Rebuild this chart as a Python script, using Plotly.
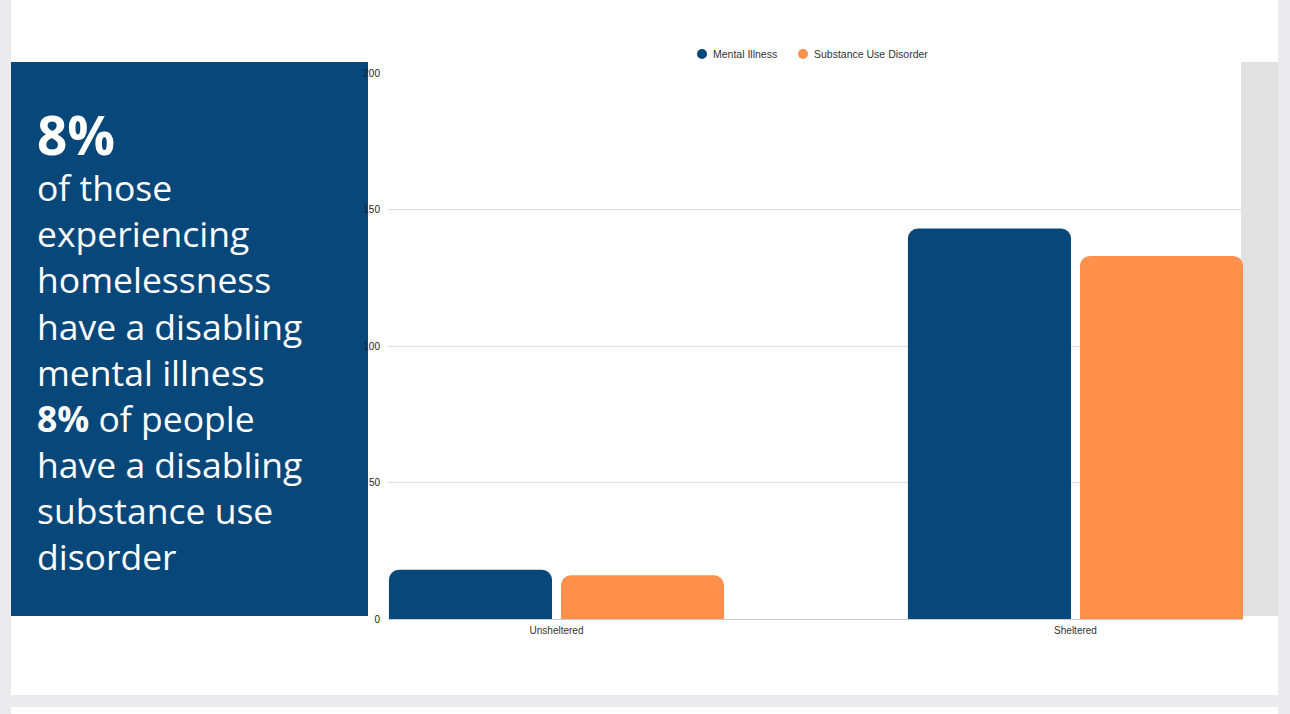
import plotly.graph_objects as go

# Data
categories = ["Unsheltered", "Sheltered"]
mental_illness = [18, 143]
substance_use = [16, 133]
y_ticks = [0, 50, 100, 150, 200]
series_names = ["Mental Illness", "Substance Use Disorder"]

NAVY = "#07477A"
ORANGE = "#FF914D"
COLORS = [NAVY, ORANGE]

W, H = 1290, 714
# plot area in pixels
L, R, T, B = 388, 1243, 73, 619


def px(x):
    return (x - L) / (R - L)


def py(y):
    return (B - y) / (B - T)


fig = go.Figure()
for name, vals, col in zip(series_names, [mental_illness, substance_use], COLORS):
    fig.add_trace(go.Bar(x=categories, y=vals, name=name,
                         marker=dict(color=col, line=dict(width=0)), showlegend=False))

shapes = [
    # white page cards
    dict(type="rect", xref="paper", yref="paper", layer="below",
         x0=px(11), x1=px(1278), y0=py(695), y1=py(0),
         fillcolor="white", line=dict(width=0)),
    dict(type="rect", xref="paper", yref="paper", layer="below",
         x0=px(11), x1=px(1278), y0=py(714), y1=py(707),
         fillcolor="white", line=dict(width=0)),
    # side panels
    dict(type="rect", xref="paper", yref="paper", layer="below",
         x0=px(11), x1=px(368), y0=py(616), y1=py(62),
         fillcolor=NAVY, line=dict(width=0)),
    dict(type="rect", xref="paper", yref="paper", layer="below",
         x0=px(1241), x1=px(1278), y0=py(616), y1=py(62),
         fillcolor="#E1E1E1", line=dict(width=0)),
]

annotations = []

# legend: circle marker followed by series name
legend_marker_x = [702, 803]
for name, col, mx in zip(series_names, COLORS, legend_marker_x):
    shapes.append(dict(type="circle", xref="paper", yref="paper", layer="above",
                       x0=px(mx - 5), x1=px(mx + 5), y0=py(59), y1=py(49),
                       fillcolor=col, line=dict(width=0)))
    annotations.append(dict(text=name, x=px(mx + 9), y=py(54), xref="paper", yref="paper",
                            xanchor="left", yanchor="middle", showarrow=False,
                            font=dict(family="Liberation Sans, Arial", size=10.5, color="#333")))

# side panel statement
panel_lines = ["<span style='font-size:53px'><b>8%</b></span>",
               "of those", "experiencing", "homelessness", "have a disabling",
               "mental illness", "<b>8%</b> of people", "have a disabling",
               "substance use", "disorder"]
annotations.append(dict(text="<br>".join(panel_lines), x=px(35), y=py(339),
                        xref="paper", yref="paper", xanchor="left", yanchor="middle",
                        align="left", showarrow=False,
                        font=dict(family="Open Sans", size=35.5, color="white")))

fig.update_layout(
    width=W, height=H,
    margin=dict(l=L, r=W - R, t=T, b=H - B),
    paper_bgcolor="#EBEBEE",
    plot_bgcolor="rgba(0,0,0,0)",
    barmode="group",
    bargap=0.337,
    bargroupgap=0.052,
    barcornerradius=10,
    showlegend=False,
    shapes=shapes,
    annotations=annotations,
    xaxis=dict(type="category", range=[(L - 556.5) / 519, (R - 556.5) / 519],
               showline=True, linecolor="#CCCCCC", linewidth=1,
               showgrid=False, ticks="", ticklabelstandoff=2,
               tickfont=dict(family="Liberation Sans, Arial", size=10, color="#333")),
    yaxis=dict(range=[0, 200], tickvals=y_ticks, showgrid=True, gridcolor="#DDDDDD",
               zeroline=False, showline=False, ticks="", ticklabelstandoff=7,
               tickfont=dict(family="Liberation Sans, Arial", size=10, color="#222")),
    font=dict(family="Liberation Sans, Arial"),
)

fig.write_html("out.html")
